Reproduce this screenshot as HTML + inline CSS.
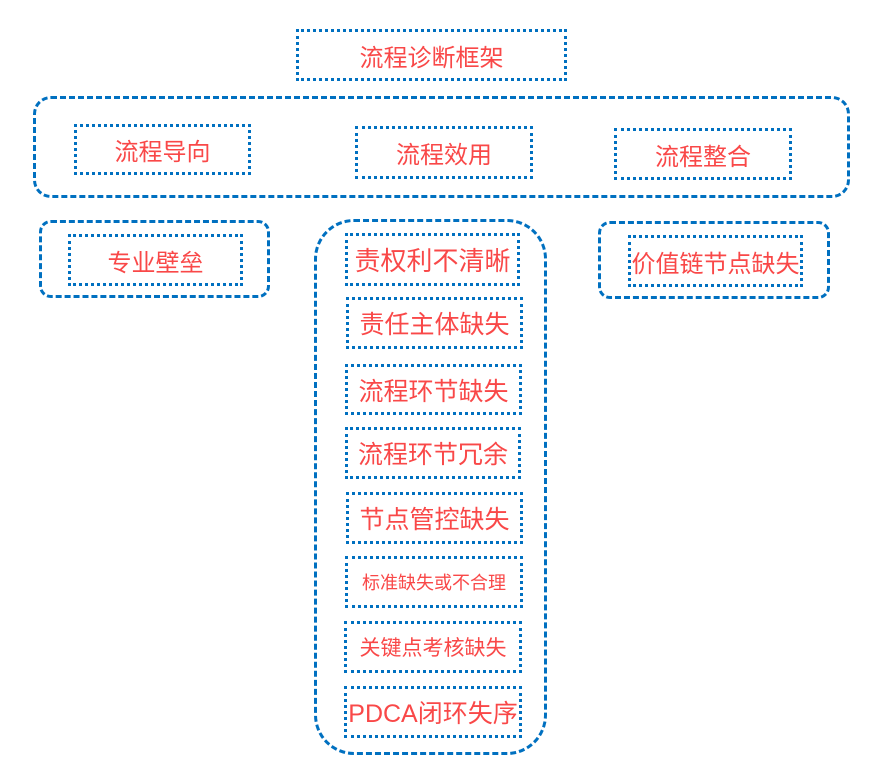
<!DOCTYPE html>
<html><head><meta charset="utf-8"><style>
body{margin:0;width:879px;height:773px;background:#fff;position:relative;overflow:hidden;font-family:"Liberation Sans","Noto Sans CJK SC",sans-serif}
.g{position:absolute;border:3px dashed #0070c0;box-sizing:border-box}
.b{position:absolute;border:3px dotted #0070c0;box-sizing:border-box;display:flex;align-items:center;justify-content:center;color:#f94848;font-size:24px;white-space:nowrap;letter-spacing:0}
</style></head><body>
<div class="b" style="left:296px;top:29px;width:271px;height:52px">流程诊断框架</div>
<div class="g" style="left:33px;top:96px;width:817px;height:102px;border-radius:18px"></div>
<div class="b" style="left:74px;top:124px;width:177px;height:51px">流程导向</div>
<div class="b" style="left:355px;top:126px;width:178px;height:53px">流程效用</div>
<div class="b" style="left:614px;top:128px;width:178px;height:52px">流程整合</div>
<div class="g" style="left:39px;top:220px;width:231px;height:78px;border-radius:12px"></div>
<div class="b" style="left:68px;top:234px;width:175px;height:52px">专业壁垒</div>
<div class="g" style="left:598px;top:221px;width:232px;height:78px;border-radius:12px"></div>
<div class="b" style="left:628px;top:235px;width:175px;height:52px">价值链节点缺失</div>
<div class="g" style="left:314px;top:219px;width:233px;height:536px;border-radius:40px"></div>
<div class="b" style="left:345px;top:233px;width:175px;height:53px;font-size:26px">责权利不清晰</div>
<div class="b" style="left:346px;top:297px;width:177px;height:52px;font-size:25px">责任主体缺失</div>
<div class="b" style="left:345px;top:364px;width:177px;height:51px;font-size:25px">流程环节缺失</div>
<div class="b" style="left:345px;top:427px;width:176px;height:52px;font-size:25px">流程环节冗余</div>
<div class="b" style="left:346px;top:492px;width:177px;height:52px;font-size:25px">节点管控缺失</div>
<div class="b" style="left:345px;top:556px;width:178px;height:52px;font-size:18px">标准缺失或不合理</div>
<div class="b" style="left:344px;top:621px;width:178px;height:52px;font-size:21px">关键点考核缺失</div>
<div class="b" style="left:344px;top:686px;width:178px;height:52px;font-size:25px">PDCA闭环失序</div>
</body></html>
